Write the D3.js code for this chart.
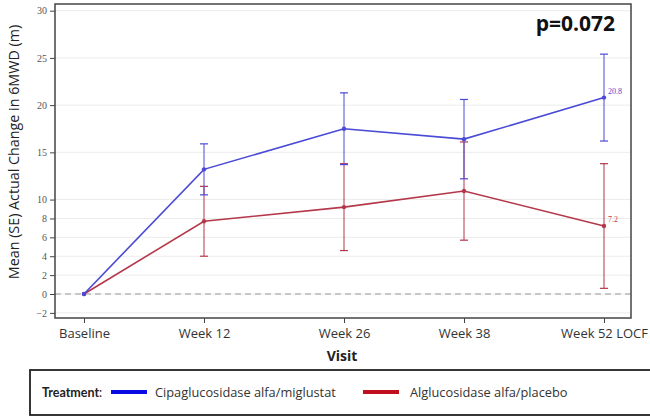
<!DOCTYPE html>
<html>
<head>
<meta charset="utf-8">
<script src="https://cdn.jsdelivr.net/npm/d3@7"></script>
<style>
  html, body { margin: 0; padding: 0; background: #fff; }
  svg { display: block; }
</style>
</head>
<body>
<svg id="chart" width="650" height="417"></svg>
<script>
// Visits (week number drives horizontal spacing)
const visits = ["Baseline", "Week 12", "Week 26", "Week 38", "Week 52 LOCF"];
const weeks = [0, 12, 26, 38, 52];

// Mean change from baseline in 6MWD (m) and standard errors
const cipaMean = [0, 13.2, 17.5, 16.4, 20.8];
const cipaSE   = [0, 2.7, 3.8, 4.2, 4.6];
const algMean  = [0, 7.7, 9.2, 10.9, 7.2];
const algSE    = [0, 3.7, 4.6, 5.2, 6.6];

const yTicks = [-2, 0, 2, 4, 6, 8, 10, 15, 20, 25, 30];
const seriesNames = ["Cipaglucosidase alfa/miglustat", "Alglucosidase alfa/placebo"];
const pValueText = "p=0.072";

const svg = d3.select("#chart");
const frame = { left: 55, right: 631, top: 4, bottom: 318 };

const x = d3.scaleLinear().domain([0, 52]).range([84, 604]);
const y = d3.scaleLinear().domain([0, 30]).range([294, 10.7]);

const sans = "'Open Sans', 'Noto Sans', sans-serif";
const serif = "'Liberation Serif', 'DejaVu Serif', serif";

// Horizontal gridlines
svg.append("g")
  .selectAll("line")
  .data(yTicks)
  .join("line")
  .attr("x1", frame.left).attr("x2", frame.right)
  .attr("y1", d => y(d)).attr("y2", d => y(d))
  .attr("stroke", "#ececec").attr("stroke-width", 1);

// Reference line at zero
svg.append("line")
  .attr("x1", frame.left).attr("x2", frame.right)
  .attr("y1", y(0)).attr("y2", y(0))
  .attr("stroke", "#999").attr("stroke-width", 1.2)
  .attr("stroke-dasharray", "6,4");

// Plot frame
svg.append("rect")
  .attr("x", frame.left).attr("y", frame.top)
  .attr("width", frame.right - frame.left).attr("height", frame.bottom - frame.top)
  .attr("fill", "none").attr("stroke", "#444").attr("stroke-width", 1.5);

// Y axis
const yAxis = svg.append("g")
  .attr("transform", `translate(${frame.left},0)`)
  .call(d3.axisLeft(y).tickValues(yTicks).tickSize(5).tickPadding(3).tickFormat(d3.format("d")));
yAxis.select(".domain").remove();
yAxis.selectAll(".tick line").attr("stroke", "#444");
yAxis.selectAll(".tick text")
  .attr("font-family", serif).attr("font-size", 10).attr("fill", "#555");

// X axis
const xAxis = svg.append("g")
  .attr("transform", `translate(0,${frame.bottom})`)
  .call(d3.axisBottom(x).tickValues(weeks).tickSize(5).tickPadding(6)
    .tickFormat((d, i) => visits[i]));
xAxis.select(".domain").remove();
xAxis.selectAll(".tick line").attr("stroke", "#444");
xAxis.selectAll(".tick text")
  .attr("font-family", sans).attr("font-size", 13).attr("fill", "#333");

// Axis titles
svg.append("text")
  .attr("transform", `translate(19,152) rotate(-90)`)
  .attr("text-anchor", "middle")
  .attr("font-family", sans).attr("font-size", 14.3).attr("fill", "#222")
  .text("Mean (SE) Actual Change in 6MWD (m)");

svg.append("text")
  .attr("x", 342).attr("y", 361)
  .attr("text-anchor", "middle")
  .attr("font-family", sans).attr("font-size", 14).attr("font-weight", "bold").attr("fill", "#222")
  .text("Visit");

// p-value annotation
svg.append("text")
  .attr("x", 615).attr("y", 31)
  .attr("text-anchor", "end")
  .attr("font-family", sans).attr("font-size", 21).attr("font-weight", "bold").attr("fill", "#111")
  .text(pValueText);

const series = [
  { name: seriesNames[1], mean: algMean, se: algSE, color: "#b5374a", legend: "#c0101e" },
  { name: seriesNames[0], mean: cipaMean, se: cipaSE, color: "#4a4ad6", legend: "#0a0ae6" }
];

const line = d3.line().x(d => x(d.w)).y(d => y(d.v));

series.forEach(s => {
  const pts = weeks.map((w, i) => ({ w, v: s.mean[i], se: s.se[i] }));
  const g = svg.append("g");

  // Error bars
  const eb = g.selectAll(".eb").data(pts.filter(p => p.se > 0)).join("g");
  eb.append("line")
    .attr("x1", d => x(d.w)).attr("x2", d => x(d.w))
    .attr("y1", d => y(d.v - d.se)).attr("y2", d => y(d.v + d.se))
    .attr("stroke", s.color).attr("stroke-width", 1);
  [-1, 1].forEach(sign => {
    eb.append("line")
      .attr("x1", d => x(d.w) - 4).attr("x2", d => x(d.w) + 4)
      .attr("y1", d => y(d.v + sign * d.se)).attr("y2", d => y(d.v + sign * d.se))
      .attr("stroke", s.color).attr("stroke-width", 1.2);
  });

  // Mean line and markers
  g.append("path").datum(pts)
    .attr("d", line).attr("fill", "none")
    .attr("stroke", s.color).attr("stroke-width", 1.6);
  g.selectAll("circle").data(pts).join("circle")
    .attr("cx", d => x(d.w)).attr("cy", d => y(d.v)).attr("r", 2.2)
    .attr("fill", s.color);

  // Final value label
  const last = pts[pts.length - 1];
  g.append("text")
    .attr("x", x(last.w) + 4).attr("y", y(last.v) - 4)
    .attr("font-family", serif).attr("font-size", 8).attr("fill", s.color)
    .text(d3.format(".1f")(last.v));
});

// Legend
const lg = svg.append("g");
lg.append("rect")
  .attr("x", 30).attr("y", 370).attr("width", 640).attr("height", 45)
  .attr("fill", "#fff").attr("stroke", "#222").attr("stroke-width", 1.8);
const ly = 397;
const title = lg.append("text").attr("x", 42).attr("y", ly)
  .attr("font-family", "Lato, 'Open Sans', sans-serif").attr("font-size", 12.5)
  .attr("fill", "#222");
title.append("tspan").attr("font-weight", "bold").text("Treatment");
title.append("tspan").text(":");

[
  { name: seriesNames[0], color: series[1].legend, x0: 111, tx: 155 },
  { name: seriesNames[1], color: series[0].legend, x0: 363, tx: 410 }
].forEach(item => {
  lg.append("line")
    .attr("x1", item.x0).attr("x2", item.x0 + 36)
    .attr("y1", ly - 5).attr("y2", ly - 5)
    .attr("stroke", item.color).attr("stroke-width", 4);
  lg.append("text").attr("x", item.tx).attr("y", ly)
    .attr("font-family", sans).attr("font-size", 12.8).attr("fill", "#333")
    .text(item.name);
});
</script>
</body>
</html>
